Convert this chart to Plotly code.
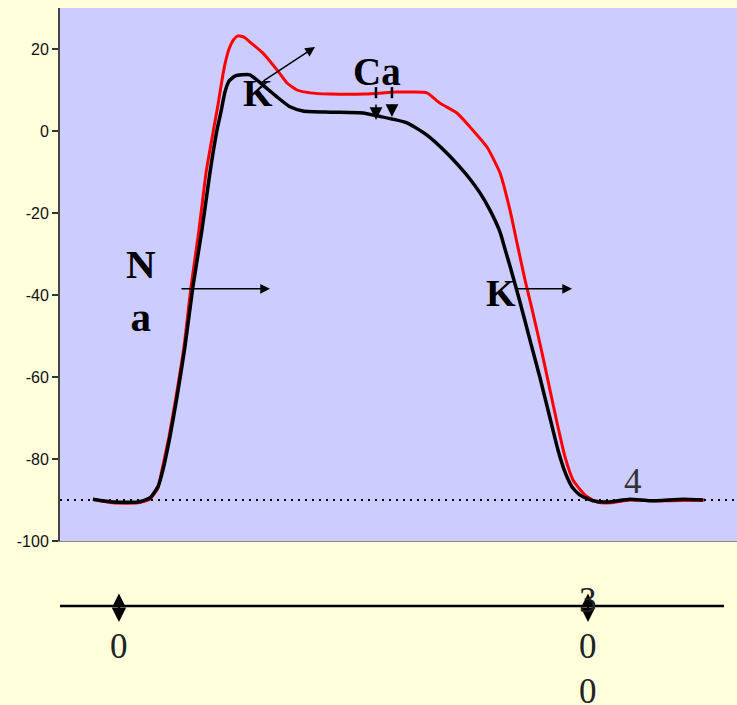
import plotly.graph_objects as go

# Time (ms) and membrane potential (mV) for the two action potentials
t_black = [-16.6, -3.8, 12.2, 19.8, 24.9, 28.1, 32.6, 37.1, 42.2, 47.3, 53.1, 58.2, 62.7, 65.2,
           67.8, 70.4, 74.2, 78.7, 83.8, 92.1, 101.1, 109.4, 117.7, 135.0, 156.1, 165.0, 184.2,
           197.0, 209.8, 218.1, 224.5, 230.9, 237.3, 243.7, 246.9, 250.1, 256.5, 262.9, 269.3,
           275.7, 280.8, 285.3, 289.8, 294.9, 303.2, 312.2, 326.9, 339.7, 360.8, 373.6]
v_black = [-89.8, -90.5, -90.5, -89.5, -86.8, -82.7, -74.6, -64.9, -52.7, -38.0, -24.1, -10.2,
           0.2, 4.6, 9.5, 12.2, 13.4, 13.7, 13.7, 11.2, 8.3, 5.9, 4.9, 4.6, 4.4, 3.7, 2.0,
           -1.0, -5.4, -8.8, -11.7, -15.1, -19.3, -24.6, -28.8, -32.9, -41.7, -51.0, -60.2,
           -70.0, -77.8, -83.2, -86.8, -88.8, -90.2, -90.5, -89.8, -90.2, -89.8, -90.0]

t_red = [-16.6, -3.8, 12.2, 19.8, 24.9, 27.5, 32.0, 36.5, 41.6, 46.1, 51.2, 55.7, 58.2, 60.8,
         63.3, 65.9, 67.8, 70.4, 73.6, 76.1, 80.0, 83.8, 92.1, 101.1, 107.5, 113.9, 122.2,
         135.0, 157.4, 177.8, 188.1, 197.0, 205.3, 216.2, 224.5, 235.4, 243.7, 250.1, 254.6,
         259.7, 264.8, 270.6, 275.7, 280.8, 285.3, 290.4, 298.1, 305.8, 314.1, 326.9, 346.1,
         374.8]
v_red = [-89.8, -90.7, -90.7, -89.8, -87.1, -82.7, -74.6, -64.9, -52.7, -38.0, -24.1, -10.2,
         -4.6, 1.0, 6.3, 12.4, 16.3, 20.0, 22.4, 23.2, 22.9, 21.7, 19.0, 14.9, 11.7, 10.0, 9.3,
         9.0, 9.0, 9.5, 9.5, 9.3, 6.8, 4.4, 1.0, -3.9, -10.2, -19.3, -27.3, -36.3, -44.4,
         -54.1, -63.2, -72.2, -79.5, -85.1, -88.8, -90.5, -90.7, -90.0, -90.2, -90.0]

y_ticks = [-100, -80, -60, -40, -20, 0, 20]
y_tick_text = ["-100", "-80", "-60", "-40", "-20", "0", "20"]
rest_potential = -90
marker_times = [0, 300]
marker_labels = ["0", "300"]
phase_label = "4"

PAGE_BG = "#FFFFDC"
PLOT_BG = "#CCCCFF"
SERIF = "Liberation Serif, Times New Roman, serif"

fig = go.Figure()
fig.add_trace(go.Scatter(x=t_red, y=v_red, mode="lines",
                         line=dict(color="#FF0000", width=3, shape="spline", smoothing=0.5),
                         hoverinfo="skip"))
fig.add_trace(go.Scatter(x=t_black, y=v_black, mode="lines",
                         line=dict(color="#000000", width=3.5, shape="spline", smoothing=0.5),
                         hoverinfo="skip"))

# resting-potential reference line
fig.add_shape(type="line", xref="paper", yref="y", x0=0, x1=1,
              y0=rest_potential, y1=rest_potential,
              line=dict(color="black", width=2, dash="2px,5px"))

ann = []
# ion labels
ann.append(dict(x=14.1, y=-39.0, xref="x", yref="y", text="<b>N<br>a</b>", showarrow=False,
                font=dict(family=SERIF, size=41, color="black")))
ann.append(dict(x=88.9, y=9.3, xref="x", yref="y", text="<b>K</b>", showarrow=False,
                font=dict(family=SERIF, size=38, color="black")))
ann.append(dict(x=165.0, y=14.5, xref="x", yref="y", text="<b>Ca</b>", showarrow=False,
                font=dict(family=SERIF, size=39, color="black")))
ann.append(dict(x=244.3, y=-39.5, xref="x", yref="y", text="<b>K</b>", showarrow=False,
                font=dict(family=SERIF, size=38, color="black")))
ann.append(dict(x=328.8, y=-85.4, xref="x", yref="y", text=phase_label, showarrow=False,
                font=dict(family=SERIF, size=35, color="#333333")))

# ion flow arrows
def flow_arrow(x0, y0, x1, y1, size=1.3):
    return dict(x=x1, y=y1, ax=x0, ay=y0, xref="x", yref="y", axref="x", ayref="y",
                text="", showarrow=True, arrowhead=2, arrowsize=size, arrowwidth=1.5,
                arrowcolor="black")

ann.append(flow_arrow(39.0, -38.5, 96.6, -38.5))
ann.append(flow_arrow(91.5, 12.0, 125.4, 20.5))
ann.append(flow_arrow(252.7, -38.5, 289.8, -38.5))
for xc, tip in [(164.4, 2.7), (174.6, 3.4)]:
    fig.add_shape(type="line", xref="x", yref="y", x0=xc, x1=xc, y0=10.7, y1=8.0,
                  line=dict(color="black", width=2.5))
    ann.append(dict(x=xc, y=tip, ax=xc, ay=6.8, xref="x", yref="y", axref="x", ayref="y",
                    text="", showarrow=True, arrowhead=2, arrowsize=1.7, arrowwidth=1.5,
                    arrowcolor="black"))

# time line below the chart
def py(p):
    return 1 - (p - 8) / 533.0

fig.add_shape(type="line", xref="x", yref="paper", x0=-38.4, x1=387.0, y0=py(606), y1=py(606),
              line=dict(color="black", width=2.5))
for tm, lab in zip(marker_times, marker_labels):
    ann.append(dict(x=tm, y=py(622), xref="x", yref="paper", ax=0, ay=-30, text="",
                    showarrow=True, arrowhead=2, arrowside="end+start", arrowsize=1.4,
                    arrowwidth=2, arrowcolor="black"))
    ann.append(dict(x=tm, y=py(646), xref="x", yref="paper", text="<br>".join(lab),
                    showarrow=False, yanchor="middle",
                    font=dict(family=SERIF, size=35, color="#222222")))

fig.update_layout(
    width=737, height=705,
    margin=dict(l=60, r=0, t=8, b=164),
    paper_bgcolor=PAGE_BG, plot_bgcolor=PLOT_BG,
    showlegend=False,
    annotations=ann,
    xaxis=dict(range=[-37.7, 395.3], showgrid=False, zeroline=False, showticklabels=False,
               ticks="", showline=True, linecolor="#888888", linewidth=1, fixedrange=True),
    yaxis=dict(range=[-100, 30], tickvals=y_ticks, ticktext=y_tick_text, showgrid=False,
               zeroline=False, ticks="outside", ticklen=6, tickwidth=1.5, tickcolor="#333333",
               showline=True, linecolor="#444444", linewidth=2,
               tickfont=dict(family="Liberation Sans, Arial, sans-serif", size=16,
                             color="#111111")),
)

fig.write_html("out.html")
